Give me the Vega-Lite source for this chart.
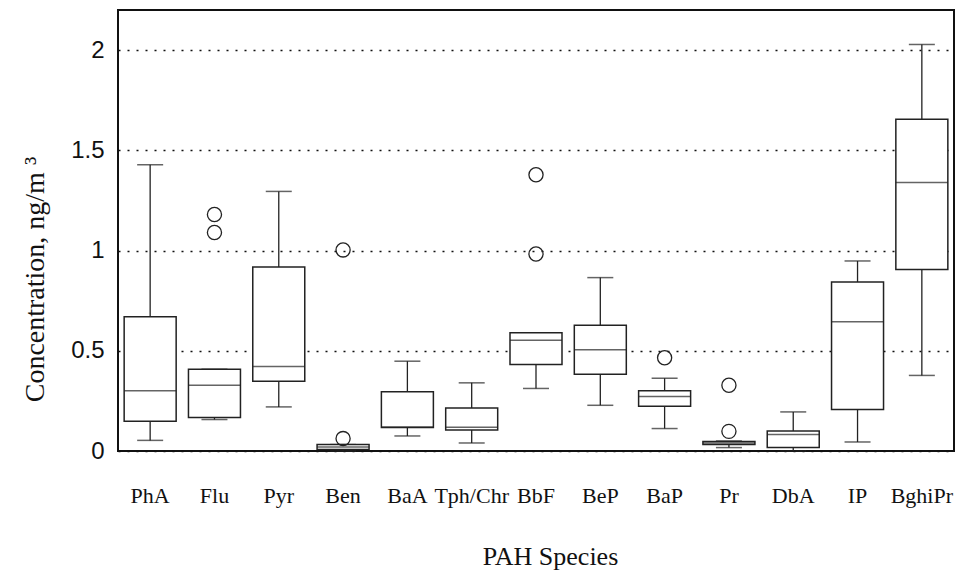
{
  "$schema": "https://vega.github.io/schema/vega-lite/v6.json",
  "width": 836,
  "height": 441,
  "autosize": "none",
  "padding": {"left": 118, "top": 10, "right": 4, "bottom": 126},
  "background": "white",
  "config": {
    "view": {"stroke": "#111", "strokeWidth": 2},
    "axisY": {
      "grid": true, "gridDash": [2, 7], "gridColor": "#111", "gridWidth": 1.3,
      "ticks": false, "domain": false,
      "labelFont": "Liberation Sans", "labelFontSize": 24, "labelColor": "#111", "labelPadding": 14,
      "titleFont": "Liberation Serif", "titleFontSize": 28, "titleFontWeight": "normal", "titleColor": "#111",
      "titleX": -75, "titleY": 269, "titleBaseline": "alphabetic", "titleAngle": 270, "titleAlign": "center"
    },
    "axisX": {
      "ticks": false, "domain": false, "grid": false,
      "labelFont": "Liberation Serif", "labelFontSize": 22, "labelColor": "#111", "labelPadding": 34,
      "labelAngle": 0, "labelOverlap": false, "labelBound": false,
      "titleFont": "Liberation Serif", "titleFontSize": 26, "titleFontWeight": "normal", "titleColor": "#111",
      "titleX": 432, "titleY": 113, "titleBaseline": "alphabetic", "titleAlign": "center"
    }
  },
  "datasets": {
    "stats": [
      {"species": "PhA", "lower": 0.053, "q1": 0.148, "median": 0.30, "q3": 0.67, "upper": 1.428},
      {"species": "Flu", "lower": 0.157, "q1": 0.167, "median": 0.328, "q3": 0.408, "upper": 0.408},
      {"species": "Pyr", "lower": 0.22, "q1": 0.348, "median": 0.422, "q3": 0.918, "upper": 1.295},
      {"species": "Ben", "lower": 0.0, "q1": 0.008, "median": 0.02, "q3": 0.032, "upper": 0.032},
      {"species": "BaA", "lower": 0.075, "q1": 0.117, "median": 0.12, "q3": 0.295, "upper": 0.448},
      {"species": "Tph/Chr", "lower": 0.04, "q1": 0.105, "median": 0.118, "q3": 0.215, "upper": 0.34},
      {"species": "BbF", "lower": 0.312, "q1": 0.432, "median": 0.552, "q3": 0.59, "upper": 0.59},
      {"species": "BeP", "lower": 0.228, "q1": 0.383, "median": 0.505, "q3": 0.627, "upper": 0.865},
      {"species": "BaP", "lower": 0.112, "q1": 0.223, "median": 0.272, "q3": 0.30, "upper": 0.363},
      {"species": "Pr", "lower": 0.017, "q1": 0.032, "median": 0.04, "q3": 0.047, "upper": 0.05},
      {"species": "DbA", "lower": 0.0, "q1": 0.017, "median": 0.082, "q3": 0.10, "upper": 0.195},
      {"species": "IP", "lower": 0.045, "q1": 0.207, "median": 0.645, "q3": 0.843, "upper": 0.948},
      {"species": "BghiPr", "lower": 0.377, "q1": 0.905, "median": 1.34, "q3": 1.655, "upper": 2.028}
    ],
    "outliers": [
      {"species": "Flu", "value": 1.18},
      {"species": "Flu", "value": 1.09},
      {"species": "Ben", "value": 1.003},
      {"species": "Ben", "value": 0.062},
      {"species": "BbF", "value": 1.378},
      {"species": "BbF", "value": 0.983},
      {"species": "BaP", "value": 0.465},
      {"species": "Pr", "value": 0.328},
      {"species": "Pr", "value": 0.098}
    ]
  },
  "encoding": {
    "x": {
      "field": "species", "type": "nominal", "title": "PAH Species",
      "scale": {"domain": ["PhA", "Flu", "Pyr", "Ben", "BaA", "Tph/Chr", "BbF", "BeP", "BaP", "Pr", "DbA", "IP", "BghiPr"], "paddingInner": 0, "paddingOuter": 0}
    }
  },
  "layer": [
    {
      "data": {"name": "stats"},
      "mark": {"type": "rule", "color": "#222", "strokeWidth": 1.3},
      "encoding": {
        "y": {"field": "lower", "type": "quantitative", "title": "Concentration, ng/m ³", "scale": {"domain": [0, 2.2], "nice": false, "zero": true}, "axis": {"values": [0, 0.5, 1, 1.5, 2], "format": "~g"}},
        "y2": {"field": "upper"}
      }
    },
    {
      "data": {"name": "stats"},
      "mark": {"type": "tick", "color": "#222", "size": 26, "thickness": 1.5},
      "encoding": {
        "y": {"field": "lower", "type": "quantitative", "title": "Concentration, ng/m ³"}
      }
    },
    {
      "data": {"name": "stats"},
      "mark": {"type": "tick", "color": "#222", "size": 26, "thickness": 1.5},
      "encoding": {
        "y": {"field": "upper", "type": "quantitative", "title": "Concentration, ng/m ³"}
      }
    },
    {
      "data": {"name": "stats"},
      "mark": {"type": "bar", "fill": "white", "stroke": "#222", "strokeWidth": 1.5, "size": 52},
      "encoding": {
        "y": {"field": "q1", "type": "quantitative", "title": "Concentration, ng/m ³"},
        "y2": {"field": "q3"}
      }
    },
    {
      "data": {"name": "stats"},
      "mark": {"type": "tick", "color": "#222", "size": 52, "thickness": 1.5},
      "encoding": {
        "y": {"field": "median", "type": "quantitative", "title": "Concentration, ng/m ³"}
      }
    },
    {
      "data": {"name": "outliers"},
      "mark": {"type": "point", "shape": "circle", "filled": false, "stroke": "#222", "strokeWidth": 1.3, "size": 200, "opacity": 1},
      "encoding": {
        "y": {"field": "value", "type": "quantitative", "title": "Concentration, ng/m ³"}
      }
    }
  ]
}
